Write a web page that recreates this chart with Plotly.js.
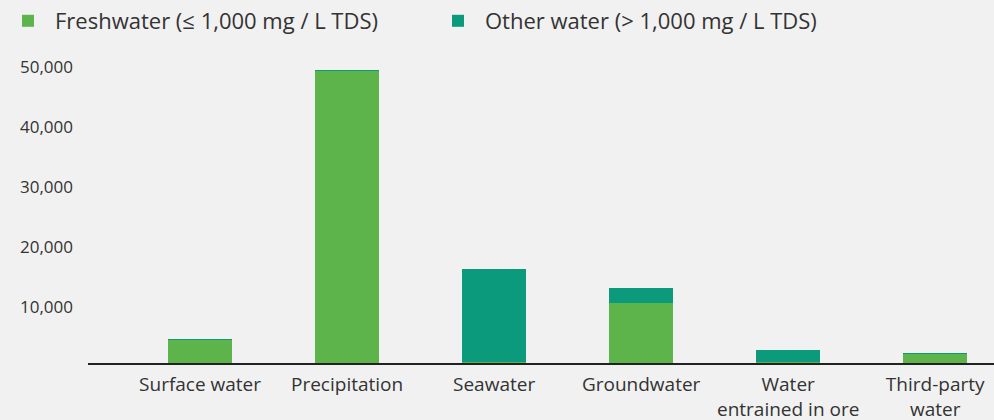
<!DOCTYPE html>
<html>
<head>
<meta charset="utf-8">
<script src="https://cdn.plot.ly/plotly-3.0.1.min.js"></script>
<style>
  html, body { margin: 0; padding: 0; background: #f1f1f1; }
  #chart { width: 994px; height: 420px; }
</style>
</head>
<body>
<div id="chart"></div>
<script>
// Categories and series values (ML)
const categories = ["Surface water", "Precipitation", "Seawater", "Groundwater", "Water<br>entrained in ore", "Third-party<br>water"];
const freshwater = [3830, 48650, 120, 10000, 90, 1560];
const otherWater = [160, 170, 15550, 2500, 2080, 60];
const seriesNames = ["Freshwater (≤ 1,000 mg / L TDS)", "Other water (> 1,000 mg / L TDS)"];
const tickValues = [10000, 20000, 30000, 40000, 50000];
const tickLabels = ["10,000", "20,000", "30,000", "40,000", "50,000"];

const GREEN = "#5db44a";
const TEAL = "#0c9a7c";
const FONT = "Open Sans, sans-serif";

const traces = [
  {
    type: "bar", name: seriesNames[0], x: categories, y: freshwater,
    marker: { color: GREEN }, width: 0.435, hoverinfo: "x+y"
  },
  {
    type: "bar", name: seriesNames[1], x: categories, y: otherWater,
    marker: { color: TEAL }, width: 0.435, hoverinfo: "x+y"
  }
];

const layout = {
  width: 994, height: 420,
  paper_bgcolor: "#f1f1f1", plot_bgcolor: "#f1f1f1",
  barmode: "stack",
  margin: { l: 88, r: 0, t: 60, b: 57 },
  font: { family: FONT, color: "#333333" },
  showlegend: true,
  legend: {
    orientation: "h", xref: "container", yref: "container",
    x: 0.001, y: 1, xanchor: "left", yanchor: "top",
    font: { size: 22, color: "#333333", family: FONT },
    itemwidth: 44,
    entrywidth: 371, traceorder: "normal",
    bgcolor: "rgba(0,0,0,0)"
  },
  xaxis: {
    type: "category", range: [-0.762, 5.40],
    showline: true, linecolor: "#222222", linewidth: 1.5,
    showgrid: false, zeroline: false, ticks: "",
    ticklabelstandoff: 4,
    tickfont: { size: 19, color: "#333333", family: FONT },
    fixedrange: true
  },
  yaxis: {
    range: [0, 50500], showline: false, showgrid: false, zeroline: false,
    tickvals: tickValues, ticktext: tickLabels, ticks: "",
    ticklabelstandoff: 14, ticklabelshift: 4,
    tickfont: { size: 17, color: "#333333", family: FONT },
    fixedrange: true
  }
};

Plotly.newPlot("chart", traces, layout, { displayModeBar: false, staticPlot: true });
</script>
</body>
</html>
